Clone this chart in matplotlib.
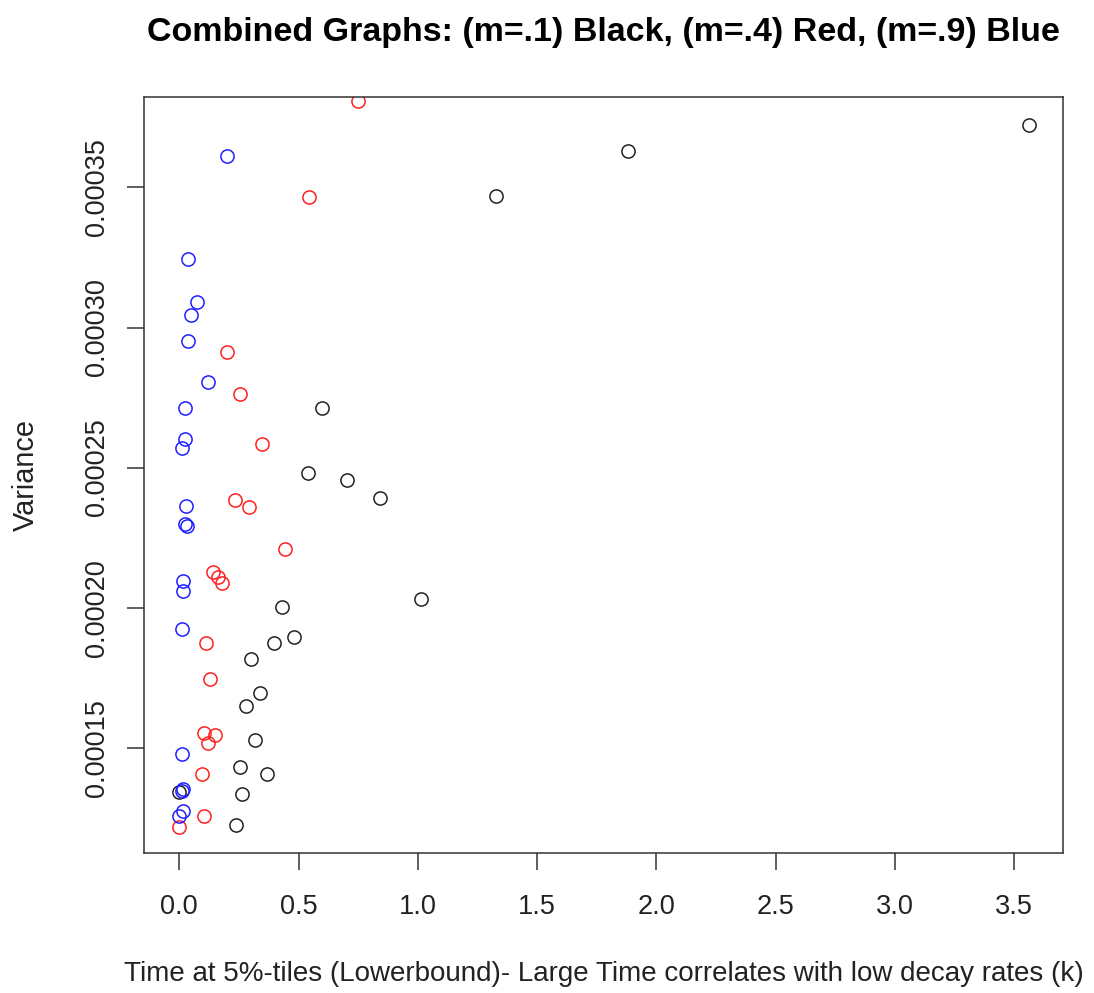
import matplotlib
matplotlib.use("Agg")
import matplotlib.pyplot as plt
from matplotlib.ticker import FixedLocator, FormatStrFormatter

# Black series (m=.1)
black_x = [3.564, 1.881, 1.329, 0.599, 0.541, 0.704, 0.842, 0.430, 1.014, 0.482,
           0.398, 0.300, 0.338, 0.278, 0.316, 0.254, 0.369, 0.263, 0.239, 0.0]
black_y = [0.0003723, 0.0003632, 0.0003471, 0.0002713, 0.0002481, 0.0002456, 0.0002392,
           0.0002004, 0.0002031, 0.0001894, 0.0001875, 0.0001816, 0.0001694, 0.0001649,
           0.0001526, 0.0001430, 0.0001405, 0.0001334, 0.0001224, 0.0001341]

# Red series (m=.4)
red_x = [0.751, 0.542, 0.202, 0.254, 0.347, 0.233, 0.292, 0.443, 0.140, 0.161,
         0.179, 0.112, 0.127, 0.102, 0.151, 0.120, 0.096, 0.104, 0.0]
red_y = [0.0003807, 0.0003466, 0.0002912, 0.0002763, 0.0002584, 0.0002386, 0.0002359,
         0.0002210, 0.0002126, 0.0002109, 0.0002087, 0.0001875, 0.0001746, 0.0001554,
         0.0001546, 0.0001518, 0.0001405, 0.0001256, 0.0001217]

# Blue series (m=.9)
blue_x = [0.202, 0.036, 0.075, 0.050, 0.036, 0.120, 0.022, 0.022, 0.013, 0.029,
          0.025, 0.032, 0.016, 0.016, 0.013, 0.013, 0.016, 0.011, 0.016, 0.0]
blue_y = [0.0003613, 0.0003246, 0.0003092, 0.0003046, 0.0002951, 0.0002807, 0.0002711,
          0.0002603, 0.0002569, 0.0002363, 0.0002299, 0.0002292, 0.0002095, 0.0002060,
          0.0001925, 0.0001478, 0.0001354, 0.0001346, 0.0001274, 0.0001257]

x_ticks = [0.0, 0.5, 1.0, 1.5, 2.0, 2.5, 3.0, 3.5]
y_ticks = [0.00015, 0.00020, 0.00025, 0.00030, 0.00035]

title = "Combined Graphs: (m=.1) Black, (m=.4) Red, (m=.9) Blue"
xlabel = "Time at 5%-tiles (Lowerbound)- Large Time correlates with low decay rates (k)"
ylabel = "Variance"

plt.rcParams['font.family'] = ['Liberation Sans', 'DejaVu Sans']

fig = plt.figure(figsize=(10.94, 9.93), dpi=100)
ax = fig.add_axes([0.1316, 0.141, 0.9721 - 0.1316, 0.9023 - 0.141])

ms = 9.5
mew = 1.1
ax.plot(black_x, black_y, 'o', mfc='none', mec='#222222', ms=ms, mew=mew)
ax.plot(red_x, red_y, 'o', mfc='none', mec='#ff2020', ms=ms, mew=mew)
ax.plot(blue_x, blue_y, 'o', mfc='none', mec='#2020ff', ms=ms, mew=mew)

ax.set_xlim(-0.148, 3.707)
ax.set_ylim(0.0001124, 0.0003823)

ax.xaxis.set_major_locator(FixedLocator(x_ticks))
ax.yaxis.set_major_locator(FixedLocator(y_ticks))
ax.xaxis.set_major_formatter(FormatStrFormatter('%.1f'))
ax.yaxis.set_major_formatter(FormatStrFormatter('%.5f'))

ax.tick_params(axis='both', direction='out', length=12.2, width=1.1, color='#333333',
               labelsize=19.5, labelcolor='#222222')
ax.tick_params(axis='x', pad=17.5)
ax.tick_params(axis='y', pad=12)
for lab in ax.get_yticklabels():
    lab.set_rotation(90)
    lab.set_va('center')

for sp in ax.spines.values():
    sp.set_linewidth(1.1)
    sp.set_color('#333333')

ax.set_title(title, fontsize=24.5, fontweight='bold', pad=40)
ax.set_xlabel(xlabel, fontsize=20, labelpad=29, color='#222222')
ax.set_ylabel(ylabel, fontsize=20.8, labelpad=32, color='#222222')

fig.savefig("out.png", dpi=100)
